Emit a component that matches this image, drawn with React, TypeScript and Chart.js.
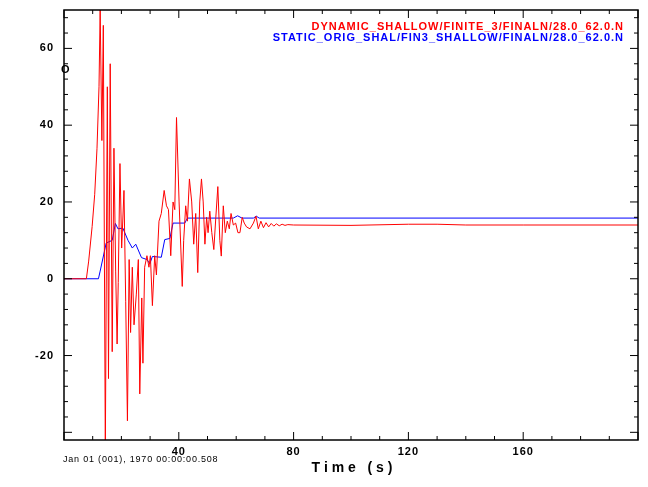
import { useEffect, useRef } from 'react';
import { Chart, registerables } from 'chart.js';

Chart.register(...registerables);

const dynT = [0, 7.8, 8.6, 9.8, 10.7, 11.5, 12.2, 12.6, 13.2, 13.7, 14.4, 15.1, 15.5, 16.1, 16.8, 17.4, 18.0, 18.5, 18.9, 19.5, 20.1, 20.9, 21.5, 22.1, 22.7, 23.2, 23.8, 24.4, 25.2, 25.9, 26.4, 27.1, 27.5, 28.1, 28.9, 29.6, 30.1, 30.8, 31.6, 32.2, 33.1, 33.9, 34.9, 35.7, 36.4, 37.2, 38.0, 38.6, 39.2, 40.1, 41.2, 41.7, 42.4, 43.0, 43.7, 44.5, 45.2, 45.9, 46.6, 47.3, 47.9, 48.5, 49.1, 49.7, 50.2, 50.8, 51.5, 52.2, 52.9, 53.6, 54.3, 54.8, 55.5, 56.2, 56.9, 57.6, 58.2, 59.0, 59.8, 60.6, 61.3, 62.1, 62.8, 63.6, 64.8, 66.0, 66.9, 67.7, 68.6, 69.5, 70.4, 71.3, 72.2, 73.1, 74.0, 75.0, 76.0, 77.0, 78.0, 80, 100, 120, 130, 140, 160, 200];
const dynV = [0, 0, 4.6, 13.6, 22, 34, 50, 70, 36, 66, -45, 50, -26, 56, -19, 34, 2, -17, -1, 30, 8, 23, -6, -37, 5, -14, 3, -12, -4, 5, -30, -5, -22, 3, 6, 3, 6, -7, 6, 1, 15, 17, 23, 19, 18, 6, 20, 18, 42, 20, -2, 10, 19, 15, 26, 20, 9, 17, 1.6, 20, 26, 20, 9, 16, 12, 17.6, 12, 7.6, 16, 24, 10, 5.9, 19, 12, 15, 13, 17, 14, 14.5, 12, 12, 16, 14.5, 13.5, 13, 14.5, 16.3, 13, 15, 13.3, 14.6, 13.5, 14.4, 13.7, 14.3, 13.8, 14.2, 13.9, 14.1, 14, 13.9, 14.2, 14.2, 14, 14, 14];

const statT = [0, 12.0, 12.6, 14.7, 16.8, 17.9, 18.8, 20.5, 22.3, 23.8, 25.0, 27.0, 28.9, 29.9, 30.8, 33.9, 35.1, 36.9, 38.0, 42.1, 43.0, 59, 60.5, 62, 66, 67, 68, 200];
const statV = [0, 0, 2, 9.3, 10, 14.4, 13, 13.2, 10, 8, 9, 5.5, 5, 3.9, 5.8, 5.6, 10.2, 10.5, 14.5, 14.5, 15.8, 15.8, 16.4, 15.8, 15.8, 16.3, 15.8, 15.8];

const xMajor = [0, 40, 80, 120, 160, 200];
const yMajor = [-40, -20, 0, 20, 40, 60];
const yLabels = [-20, 0, 20, 40, 60];
const xLabels = [40, 80, 120, 160];

const pts = (t: number[], v: number[]) => t.map((x, i) => ({ x, y: v[i] }));

const frame = {
  id: 'frame',
  afterDraw(chart: any) {
    const { ctx, chartArea: a, scales } = chart;
    const xs = scales.x, ys = scales.y;
    ctx.save();
    ctx.strokeStyle = '#000';
    ctx.lineWidth = 1.5;
    ctx.strokeRect(a.left, a.top, a.right - a.left, a.bottom - a.top);
    ctx.lineWidth = 1;
    for (let v = 0; v <= 200; v += 10) {
      const p = xs.getPixelForValue(v);
      const len = xMajor.includes(v) ? 8 : 4;
      ctx.beginPath();
      ctx.moveTo(p, a.bottom); ctx.lineTo(p, a.bottom - len);
      ctx.moveTo(p, a.top); ctx.lineTo(p, a.top + len);
      ctx.stroke();
    }
    for (let v = -40; v <= 68; v += 4) {
      const p = ys.getPixelForValue(v);
      const len = yMajor.includes(v) ? 8 : 4;
      ctx.beginPath();
      ctx.moveTo(a.left, p); ctx.lineTo(a.left + len, p);
      ctx.moveTo(a.right, p); ctx.lineTo(a.right - len, p);
      ctx.stroke();
    }
    ctx.fillStyle = '#000';
    ctx.font = 'bold 11px "Liberation Sans", Arial, sans-serif';
    ctx.letterSpacing = '1px';
    ctx.textAlign = 'right';
    ctx.textBaseline = 'middle';
    yLabels.forEach(v => ctx.fillText(String(v), a.left - 10, ys.getPixelForValue(v)));
    ctx.textAlign = 'center';
    ctx.textBaseline = 'top';
    xLabels.forEach(v => ctx.fillText(String(v), xs.getPixelForValue(v), a.bottom + 6));
    ctx.letterSpacing = '0px';
    ctx.font = 'bold 14px "Liberation Sans", Arial, sans-serif';
    ctx.fillText('T i m e   ( s )', 352, 461);
    ctx.font = '9px "Liberation Sans", Arial, sans-serif';
    ctx.letterSpacing = '0.8px';
    ctx.textAlign = 'left';
    ctx.fillText('Jan 01 (001), 1970 00:00:00.508', 63, 455);
    ctx.font = 'bold 11px "Liberation Sans", Arial, sans-serif';
    ctx.letterSpacing = '1px';
    ctx.textBaseline = 'middle';
    ctx.fillText('O', 61, 70);
    ctx.textAlign = 'right';
    ctx.fillStyle = '#ff0000';
    ctx.fillText('DYNAMIC_SHALLOW/FINITE_3/FINALN/28.0_62.0.N', 624, 27);
    ctx.fillStyle = '#0000ff';
    ctx.fillText('STATIC_ORIG_SHAL/FIN3_SHALLOW/FINALN/28.0_62.0.N', 624, 38);
    ctx.restore();
  },
};

export default function App() {
  const ref = useRef<HTMLCanvasElement>(null);
  useEffect(() => {
    document.body.style.margin = '0';
    if (!ref.current) return;
    const chart = new Chart(ref.current, {
      type: 'line',
      data: {
        datasets: [
          { data: pts(dynT, dynV), borderColor: '#ff0000', borderWidth: 1, pointRadius: 0, tension: 0 },
          { data: pts(statT, statV), borderColor: '#0000ff', borderWidth: 1, pointRadius: 0, tension: 0 },
        ],
      },
      options: {
        animation: false,
        responsive: false,
        layout: { padding: { left: 64, right: 10, top: 10, bottom: 47 } },
        plugins: { legend: { display: false }, tooltip: { enabled: false } },
        scales: {
          x: { type: 'linear', min: 0, max: 200, display: false },
          y: { type: 'linear', min: -42, max: 70, display: false },
        },
      },
      plugins: [frame],
    });
    return () => chart.destroy();
  }, []);
  return <canvas ref={ref} width={648} height={487} style={{ display: 'block' }} />;
}
